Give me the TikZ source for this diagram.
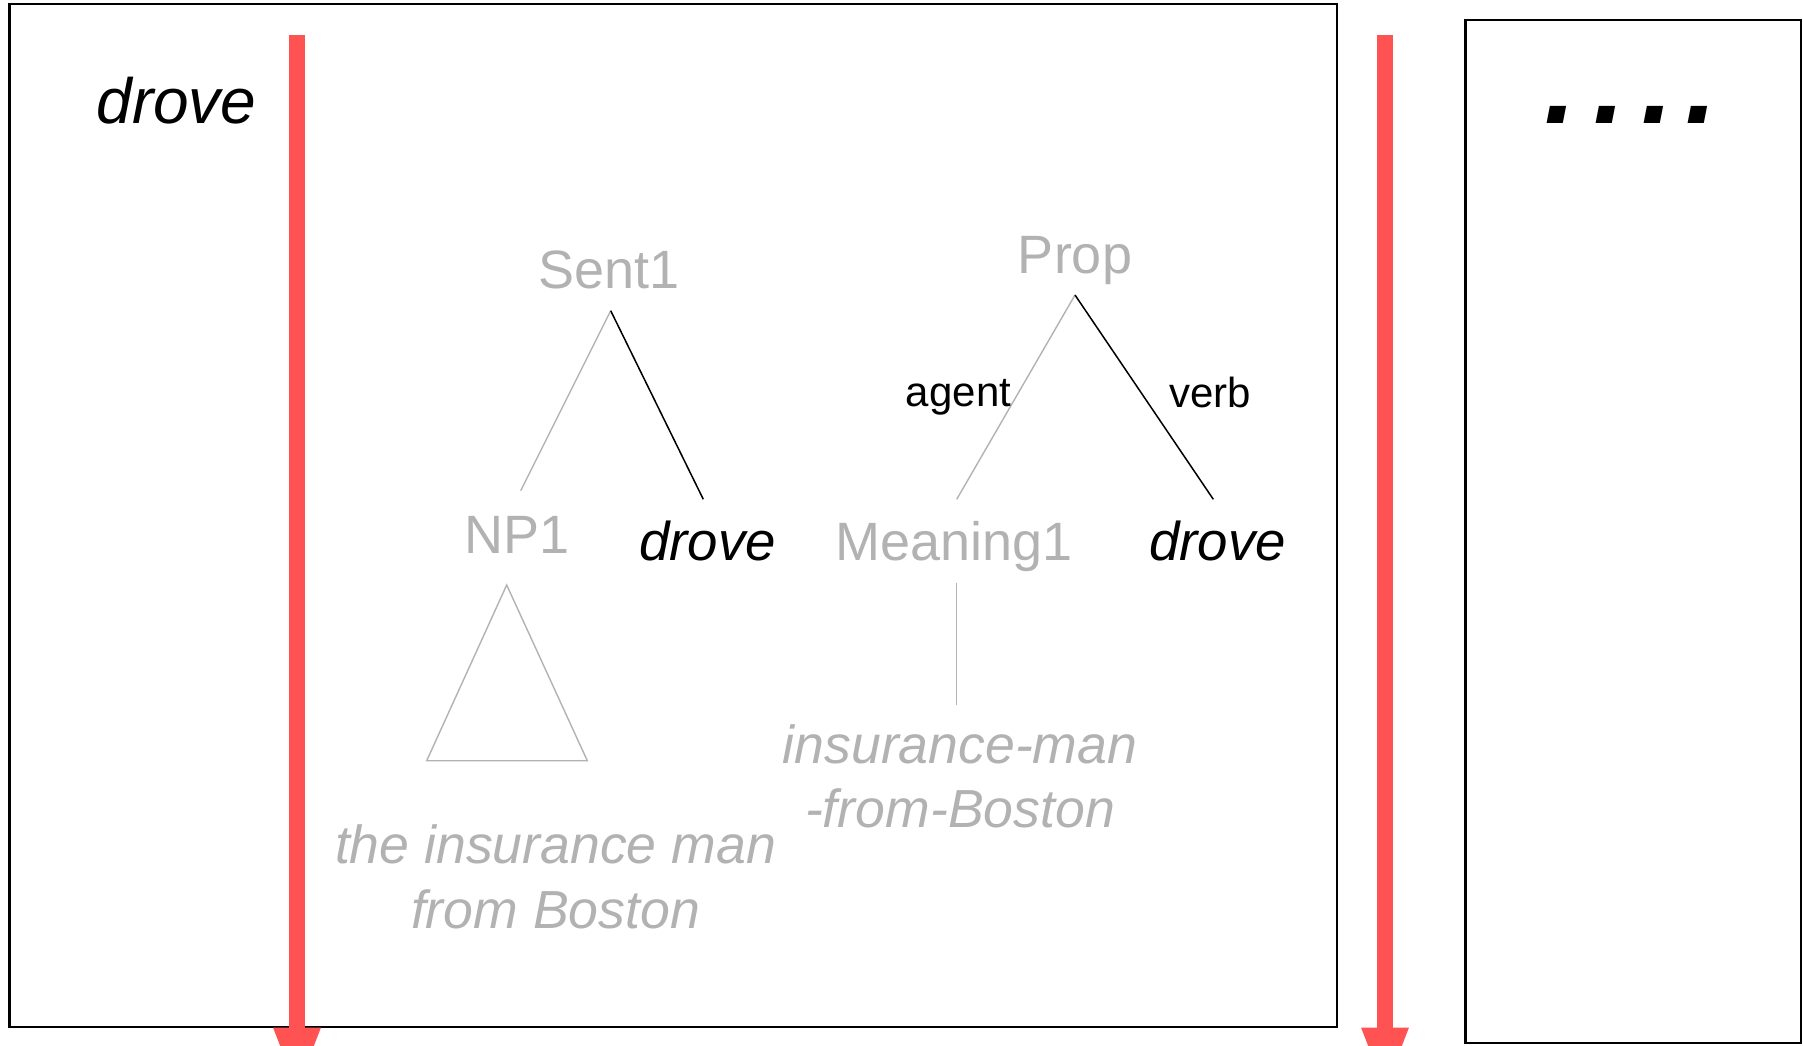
\documentclass[tikz,border=0pt]{standalone}
\usepackage{fontspec}
\setmainfont{Liberation Sans}
\definecolor{faded}{RGB}{178,178,178}
\definecolor{timeline}{RGB}{255,82,82}

\begin{document}
\begin{tikzpicture}[x=0.5pt,y=-0.5pt,
  every node/.style={inner sep=0pt, outer sep=0pt, anchor=base},
  lexword/.style={font=\fontsize{32}{36}\selectfont\itshape},
  word/.style={font=\fontsize{27.3}{30}\selectfont\itshape},
  cat/.style={font=\fontsize{27}{30}\selectfont, text=faded},
  phrase/.style={font=\fontsize{26.8}{30}\selectfont\itshape, text=faded},
  role/.style={font=\fontsize{21}{25}\selectfont},
  frame/.style={draw=black, line width=1.1pt},
  branch/.style={draw=black, line width=0.75pt},
  fadedbranch/.style={draw=faded, line width=0.7pt},
  shaft/.style={draw=timeline, line width=8pt}]

\useasboundingbox (0,0) rectangle (1803,1045);
\clip (0,0) rectangle (1803,1045);

% processing stages
\coordinate (stageA nw) at (9.5,4);
\coordinate (stageA se) at (1337,1027);
\coordinate (stageB nw) at (1465.5,20);
\coordinate (stageB se) at (1801,1042.7);
\draw[frame] (stageA nw) rectangle (stageA se);
\draw[frame] (stageB nw) rectangle (stageB se);

% incoming word
\node[lexword] (input) at (176.5,123) {drove};

% syntactic tree
\node[cat] (sent) at (609,288) {Sent1};
\node[cat] (np) at (517,553) {NP1};
\node[word] (drovesyn) at (707.5,560) {drove};
\coordinate (sentfoot) at (610.7,310.7);
\coordinate (nphead) at (520.7,490.7);
\coordinate (drovesynhead) at (703.3,499.3);
\draw[fadedbranch] (sentfoot) -- (nphead);
\draw[branch] (sentfoot) -- (drovesynhead);

\coordinate (tri top) at (506.7,585);
\coordinate (tri left) at (426.7,760.7);
\coordinate (tri right) at (587.3,760.7);
\draw[fadedbranch, line join=miter] (tri top) -- (tri left) -- (tri right) -- cycle;
\node[phrase] (npwords1) at (555.5,863) {the insurance man};
\node[phrase] (npwords2) at (555.5,928) {from Boston};

% semantic structure
\node[cat] (prop) at (1075,273) {Prop};
\node[cat] (meaning) at (954,560) {Meaning1};
\node[word] (drovesem) at (1217.5,560) {drove};
\coordinate (propfoot) at (1075,295);
\coordinate (meaninghead) at (956.7,499.3);
\coordinate (drovesemhead) at (1213.3,499.3);
\draw[fadedbranch] (propfoot) -- (meaninghead);
\draw[branch] (propfoot) -- (drovesemhead);
\node[role] (agent) at (958.5,406) {agent};
\node[role] (verb) at (1210,407) {verb};

\coordinate (meaningfoot) at (956.7,582.7);
\coordinate (conceptnode) at (956.7,705);
\draw[fadedbranch] (meaningfoot) -- (conceptnode);
\node[phrase] (concept1) at (960,763) {insurance-man};
\node[phrase] (concept2) at (960,827) {-from-Boston};

% continuation
\node[font=\fontsize{57.5}{60}\selectfont\bfseries\itshape] (more) at (1631,123)
  {.\hspace{8.2pt}.\hspace{8.2pt}.\hspace{6pt}.};

% time arrows
\coordinate (t1top) at (297,35);
\coordinate (t1base) at (297,1027.5);
\coordinate (t1tip) at (297,1089);
\draw[shaft] (t1top) -- (t1base);
\fill[timeline] ([xshift=-12pt]t1base) -- ([xshift=12pt]t1base) -- (t1tip) -- cycle;

\coordinate (t2top) at (1385,35);
\coordinate (t2base) at (1385,1027.5);
\coordinate (t2tip) at (1385,1089);
\draw[shaft] (t2top) -- (t2base);
\fill[timeline] ([xshift=-12pt]t2base) -- ([xshift=12pt]t2base) -- (t2tip) -- cycle;
\end{tikzpicture}
\end{document}
